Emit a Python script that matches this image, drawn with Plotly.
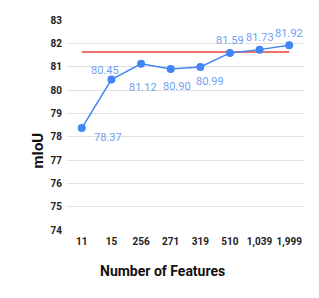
import plotly.graph_objects as go

features = ["11", "15", "256", "271", "319", "510", "1,039", "1,999"]
miou = [78.37, 80.45, 81.12, 80.90, 80.99, 81.59, 81.73, 81.92]
baseline = 81.63
y_ticks = [74, 75, 76, 77, 78, 79, 80, 81, 82, 83]

# label offsets (styling only)
lbl_dx = [26, -6, 2, 6, 10, 0, 0, 0]
lbl_dy = [-9, 9, -24, -17, -15, 12, 12, 12]

BLUE = "#4285F4"
LBLUE = "#6FA0F5"

fig = go.Figure()
fig.add_trace(go.Scatter(
    x=features, y=[baseline] * len(features), mode="lines",
    line=dict(color="#EA4335", width=1.5), hoverinfo="skip", showlegend=False))
fig.add_trace(go.Scatter(
    x=features, y=miou, mode="lines+markers",
    line=dict(color=BLUE, width=1.5), marker=dict(color=BLUE, size=8),
    showlegend=False))

for i, (v, dx, dy) in enumerate(zip(miou, lbl_dx, lbl_dy)):
    fig.add_annotation(x=i, y=v, text=f"{v:.2f}", showarrow=False,
                       xshift=dx, yshift=dy, xanchor="center", yanchor="middle",
                       font=dict(family="Roboto", size=11, color=LBLUE))

fig.add_annotation(xref="paper", yref="paper", x=0.405, y=-0.195,
                   xanchor="center", yanchor="middle",
                   text="<b>Number of Features</b>", showarrow=False,
                   font=dict(family="Roboto", size=14, color="#111"))
fig.add_annotation(xref="paper", yref="paper", x=-0.122, y=0.379,
                   xanchor="center", yanchor="middle",
                   text="<b>mIoU</b>", showarrow=False, textangle=-90,
                   font=dict(family="Roboto", size=15, color="#111"))

# page body has an 8px default margin; size the figure to fill the rest
fig.update_layout(
    width=311, height=290,
    margin=dict(l=59, r=15, t=12, b=68),
    paper_bgcolor="white", plot_bgcolor="white",
    font=dict(family="Roboto", size=10, color="#222"),
    xaxis=dict(type="category", range=[-0.5, 7.5], showgrid=False,
               zeroline=False, showline=False, automargin=False,
               ticklabelstandoff=4,
               tickfont=dict(family="Roboto", size=10, color="#222", weight="bold")),
    yaxis=dict(range=[74, 83], tickvals=y_ticks, showgrid=True,
               gridcolor="#E0E0E0", gridwidth=1, zeroline=False, showline=False,
               automargin=False,
               tickfont=dict(family="Roboto", size=10, color="#222", weight="bold"),
               ticklabelstandoff=4),
)

fig.write_html("out.html")
